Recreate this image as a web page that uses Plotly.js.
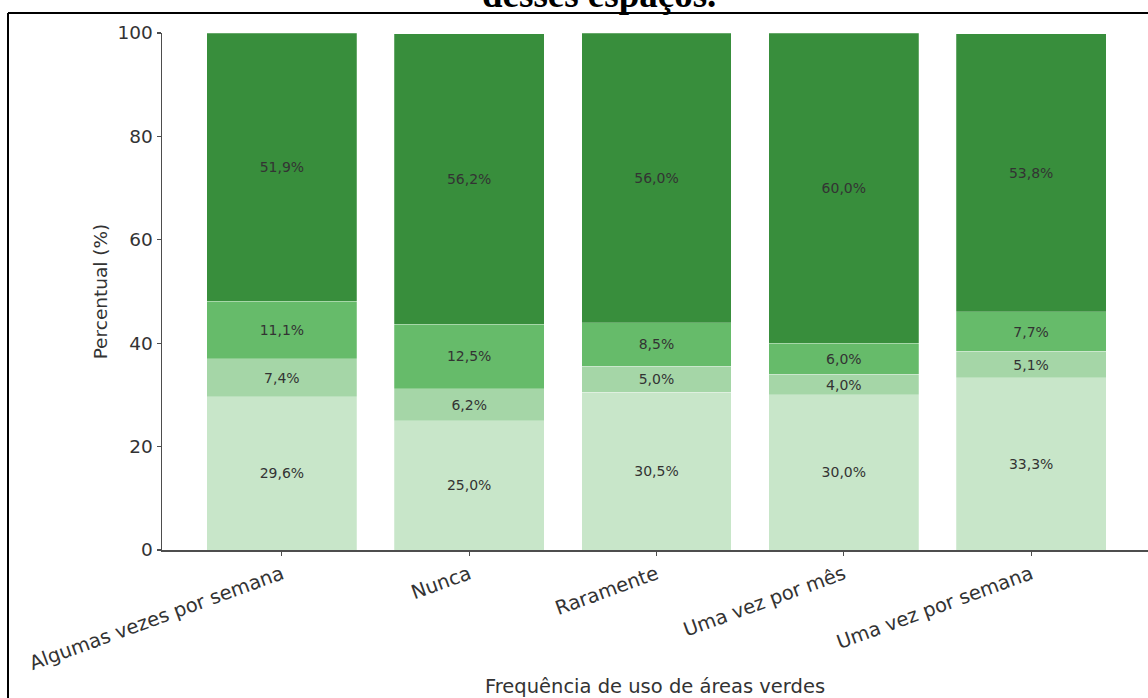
<!DOCTYPE html>
<html>
<head>
<meta charset="utf-8">
<script src="https://cdn.plot.ly/plotly-3.0.1.min.js"></script>
<style>
  html, body { margin: 0; padding: 0; background: #fff; overflow: hidden; }
  #chart { width: 1148px; height: 698px; }
</style>
</head>
<body>
<div id="chart"></div>
<script>
// Categories (x axis)
const categories = [
  "Algumas vezes por semana",
  "Nunca",
  "Raramente",
  "Uma vez por mês",
  "Uma vez por semana"
];

// Stacked series, bottom to top (percent)
const seg1 = [29.6, 25.0, 30.5, 30.0, 33.3];
const seg2 = [7.4, 6.2, 5.0, 4.0, 5.1];
const seg3 = [11.1, 12.5, 8.5, 6.0, 7.7];
const seg4 = [51.9, 56.2, 56.0, 60.0, 53.8];

const seriesValues = [seg1, seg2, seg3, seg4];
const seriesColors = ["#c8e6c9", "#a5d6a7", "#66bb6a", "#388e3c"];

const yTickValues = [0, 20, 40, 60, 80, 100];

const titleText = "desses espaços.";
const xTitle = "Frequência de uso de áreas verdes";
const yTitle = "Percentual (%)";

function fmt(v) {
  return v.toFixed(1).replace(".", ",") + "%";
}

const traces = seriesValues.map((vals, i) => ({
  type: "bar",
  x: categories,
  y: vals,
  text: vals.map(fmt),
  textposition: "inside",
  insidetextanchor: "middle",
  textangle: 0,
  constraintext: "none",
  textfont: { family: "DejaVu Sans", size: 14, color: "#333333" },
  marker: {
    color: seriesColors[i],
    line: { color: "rgba(255,255,255,0.3)", width: 0.8 }
  },
  hoverinfo: "skip",
  showlegend: false
}));

// plot area: x 162..1148, y 33..550
const L = 162, R = 1148, T = 33, B = 550, W = 1148, H = 698;
const pw = R - L, ph = B - T;
const px = x => (x - L) / pw;
const py = y => (B - y) / ph;

const layout = {
  width: W,
  height: H,
  margin: { l: L, r: W - R, t: T, b: H - B, pad: 0 },
  paper_bgcolor: "#ffffff",
  plot_bgcolor: "#ffffff",
  barmode: "stack",
  bargap: 0.2,
  font: { family: "DejaVu Sans", color: "#333333" },
  xaxis: {
    type: "category",
    range: [-0.64, 4.624],
    showgrid: false,
    zeroline: false,
    showline: true,
    linecolor: "#4d4d4d",
    linewidth: 1.5,
    ticks: "outside",
    ticklen: 4,
    tickwidth: 1.2,
    tickcolor: "#4d4d4d",
    tickangle: -20,
    tickfont: { family: "DejaVu Sans", size: 19.5, color: "#333333" },
    automargin: false,
    title: { text: xTitle, font: { family: "DejaVu Sans", size: 19.5, color: "#333333" }, standoff: 6 }
  },
  yaxis: {
    range: [0, 100],
    tickvals: yTickValues,
    showgrid: false,
    zeroline: false,
    showline: true,
    linecolor: "#4d4d4d",
    linewidth: 1.5,
    ticks: "outside",
    ticklen: 4,
    tickwidth: 1.2,
    tickcolor: "#4d4d4d",
    tickfont: { family: "DejaVu Sans", size: 18.5, color: "#333333" },
    automargin: false,
    title: { text: yTitle, font: { family: "DejaVu Sans", size: 18.5, color: "#333333" }, standoff: 5 }
  },
  shapes: [
    { type: "line", xref: "paper", yref: "paper", x0: px(8), x1: px(1160), y0: py(13), y1: py(13),
      line: { color: "#000000", width: 2 } },
    { type: "line", xref: "paper", yref: "paper", x0: px(8), x1: px(8), y0: py(13), y1: py(710),
      line: { color: "#000000", width: 2 } }
  ],
  annotations: [
    { text: "<b>" + titleText + "</b>", xref: "paper", yref: "paper",
      x: px(599), y: py(-5), xanchor: "center", yanchor: "middle", showarrow: false,
      font: { family: "Liberation Serif", size: 37, color: "#000000" } }
  ]
};

Plotly.newPlot("chart", traces, layout, { displayModeBar: false, staticPlot: true });
</script>
</body>
</html>
